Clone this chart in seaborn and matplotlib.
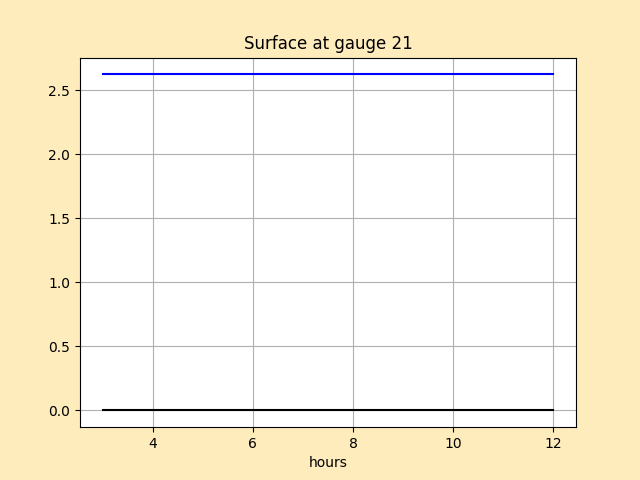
import pandas as pd
import matplotlib
matplotlib.use("Agg")
import matplotlib.pyplot as plt
import seaborn as sns

# gauge data
hours = [3, 4, 5, 6, 7, 8, 9, 10, 11, 12]
surface = [2.625] * len(hours)
topo = [0.0] * len(hours)

df = pd.DataFrame({"hours": hours, "surface": surface, "topo": topo})

fig, ax = plt.subplots(figsize=(6.4, 4.8), dpi=100)
fig.patch.set_facecolor("#ffecbd")

sns.lineplot(x="hours", y="surface", data=df, color="blue", ax=ax, linewidth=1.5)
sns.lineplot(x="hours", y="topo", data=df, color="black", ax=ax, linewidth=1.5)

ax.set_title("Surface at gauge 21")
ax.set_xlabel("hours")
ax.set_ylabel("")
ax.grid(True)

fig.savefig("out.png", facecolor=fig.get_facecolor())
